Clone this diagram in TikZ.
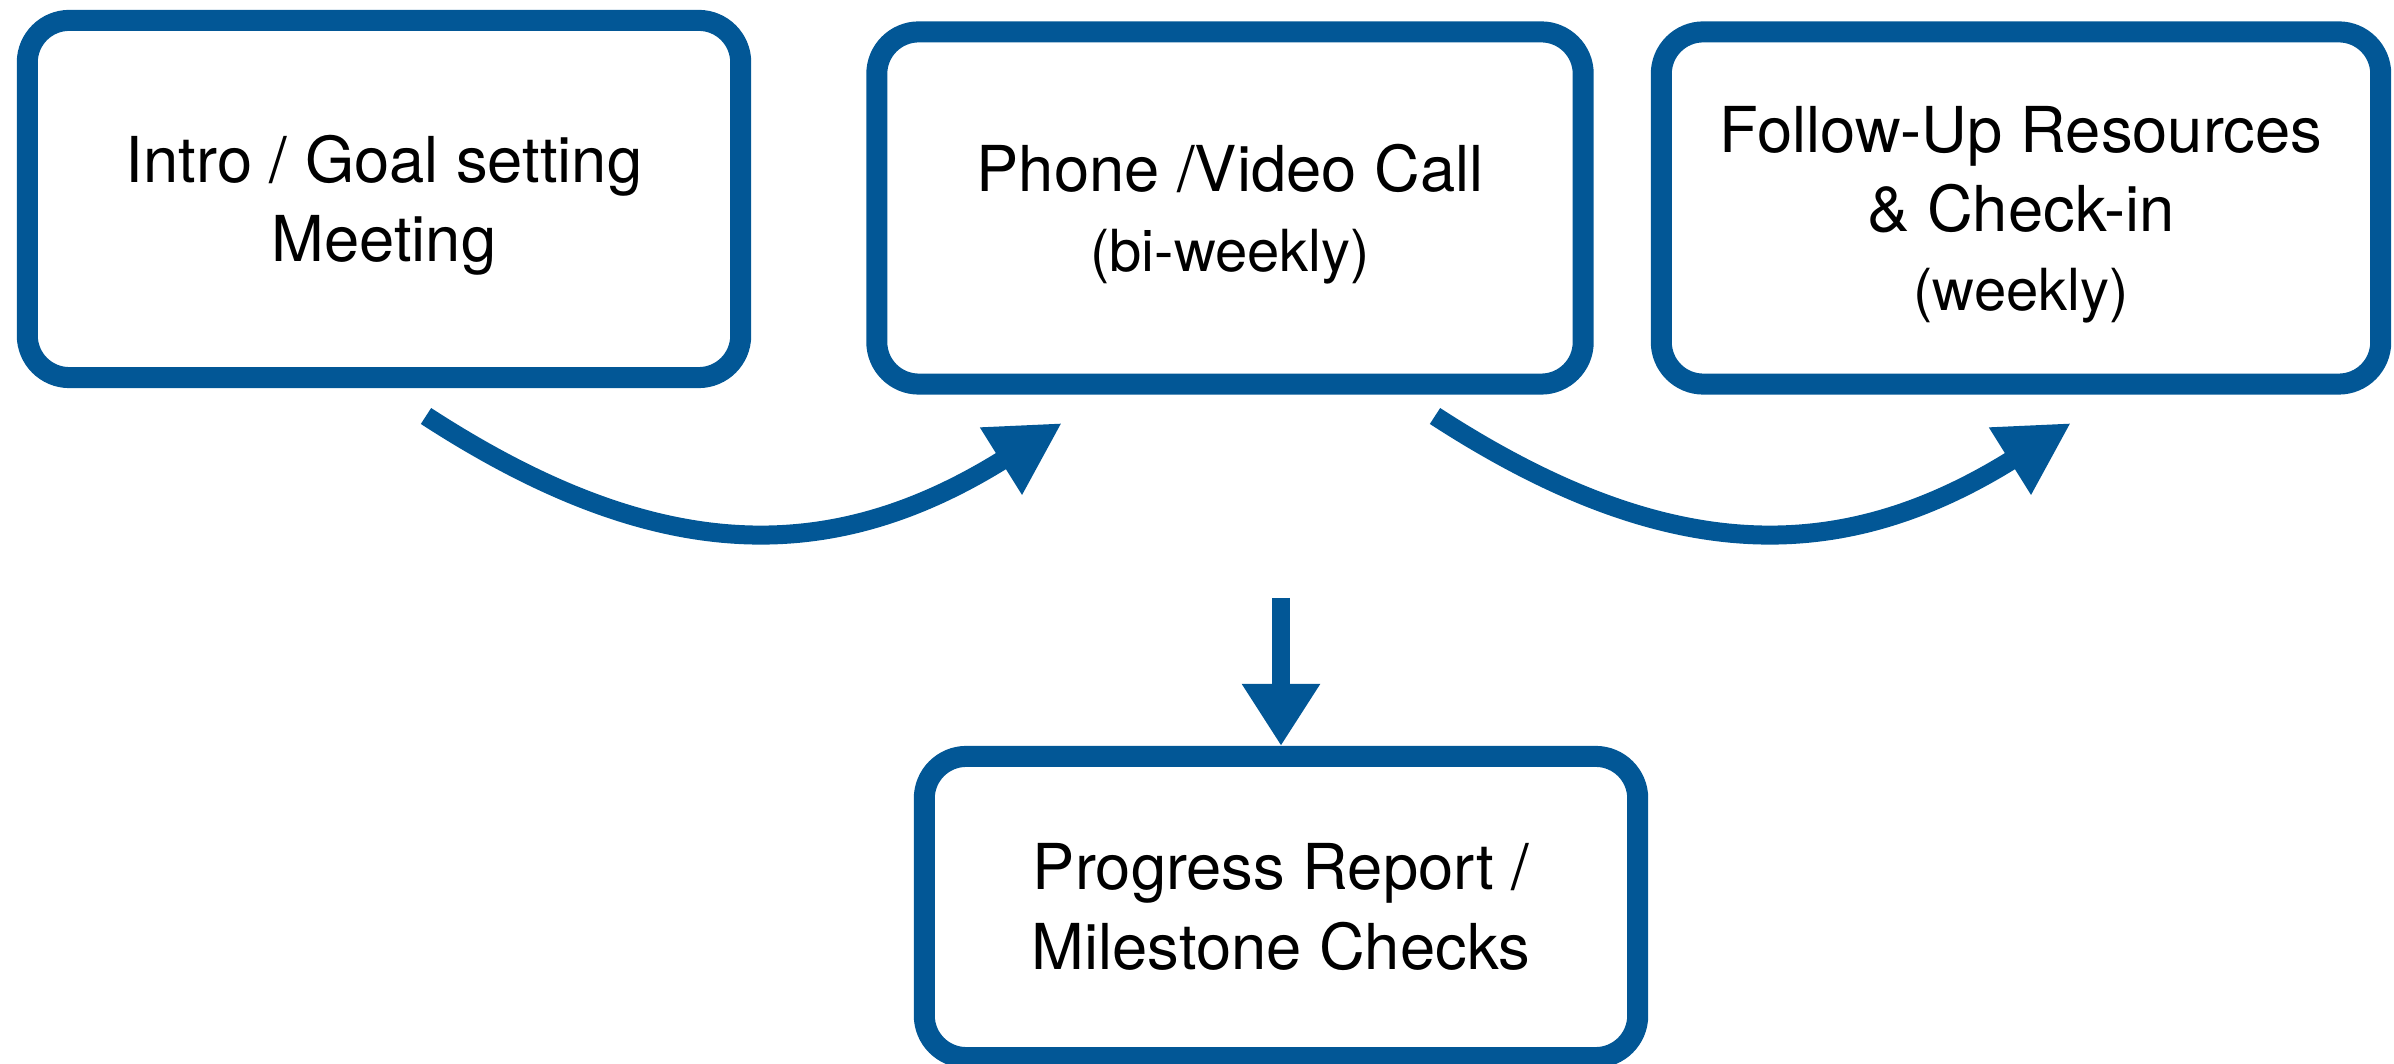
\documentclass[tikz,border=0pt]{standalone}
\usepackage{fontspec}
\setmainfont{TeX Gyre Heros}
\usetikzlibrary{arrows.meta}
\definecolor{planblue}{RGB}{2,87,150}
\newlength{\boxline}
\setlength{\boxline}{0.21cm}
\newcommand{\toprule}{\rule{0pt}{17pt}}

\begin{document}
\begin{tikzpicture}[x=0.01cm,y=0.01cm,
    stage/.style={draw=planblue,line width=\boxline,rounded corners=0.42cm,align=center,inner sep=0pt,font=\fontsize{18}{22.5}\selectfont},
    flow/.style={color=planblue,line width=0.19cm,-{Triangle[length=0.72cm,width=0.74cm]}}]
            \useasboundingbox (0,0) rectangle (2394,1064);
            \node[stage,minimum width=7.13cm,minimum height=3.57cm] (intro) at (384,865) {\toprule Intro / Goal setting\\Meeting};
            \node[stage,minimum width=7.06cm,minimum height=3.52cm] (call) at (1230,856) {\toprule Phone /Video Call\\{\fontsize{16.5}{22.5}\selectfont (bi-weekly)}};
            \node[stage,minimum width=7.19cm,minimum height=3.52cm] (followup) at (2021,856) {\toprule Follow-Up Resources\\\& Check-in\\{\fontsize{16.5}{22.5}\selectfont (weekly)}};
            \node[stage,minimum width=7.13cm,minimum height=3.01cm] (progress) at (1281,157) {Progress Report /\\Milestone Checks};
            \coordinate (s1) at (426,648);
            \coordinate (t1) at (1062,641);
            \coordinate (s2) at (1435,648);
            \coordinate (t2) at (2071,641);
            \coordinate (v1) at (1281,466);
            \draw[flow] (s1) to[out=-33,in=212,looseness=1.1] (t1);
            \draw[flow] (s2) to[out=-33,in=212,looseness=1.1] (t2);
            \draw[flow,line width=0.18cm,-{Triangle[length=0.62cm,width=0.74cm]}] (v1) -- (progress.north);
\end{tikzpicture}
\end{document}
